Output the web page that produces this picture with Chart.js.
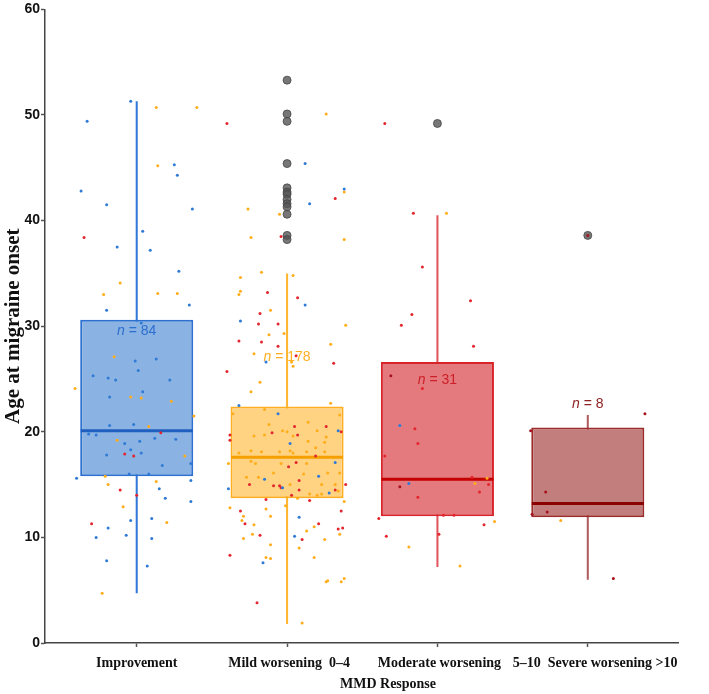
<!DOCTYPE html>
<html><head><meta charset="utf-8">
<script src="https://cdn.jsdelivr.net/npm/chart.js@4/dist/chart.umd.min.js"></script>
<style>html,body{margin:0;padding:0;background:#fff;}</style>
</head><body>
<canvas id="c" width="709" height="694"></canvas>
<script>
// ---------- data ----------
const categories = ["Improvement", "Mild worsening  0–4", "Moderate worsening", "5–10  Severe worsening >10"];
const counts = [84, 178, 31, 8];
const whiskerLow = [4.7, 1.8, 7.2, 6.0];
const q1 = [15.8, 13.7, 12.0, 11.9];
const median = [20.1, 17.6, 15.5, 13.2];
const q3 = [30.6, 22.4, 26.6, 20.4];
const whiskerHigh = [51.3, 35.0, 40.5, 21.6];
const countLabelAt = [29.5, 27.1, 24.9, 22.6];
const outliersMild = [53.3, 50.1, 49.4, 45.4, 43.1, 42.7, 42.5, 42.0, 41.6, 41.3, 40.6, 38.6, 38.2];
const outliersModerate = [49.2];
const outliersSevere = [38.6];
const yTickValues = [0, 10, 20, 30, 40, 50, 60];

// jittered observations: [category position, age]
const bluePoints = [[-0.04,51.3],[-0.33,49.4],[0.25,45.3],[0.27,44.3],[-0.37,42.8],[-0.20,41.5],[0.37,41.1],[0.04,39.0],[-0.13,37.5],[0.09,37.2],[0.28,35.2],[-0.20,31.5],[0.35,32.0],[0.03,30.3],[0.69,30.5],[0.68,22.5],[-0.01,26.7],[0.13,26.9],[0.01,25.8],[-0.29,25.3],[-0.19,25.1],[-0.14,24.9],[0.22,24.9],[0.04,23.8],[-0.18,23.3],[-0.18,20.6],[-0.02,20.7],[-0.32,19.8],[-0.27,19.7],[0.12,19.4],[0.26,19.3],[-0.08,18.9],[0.02,19.1],[-0.04,18.3],[0.03,18.0],[-0.20,17.8],[0.36,17.0],[0.17,16.8],[-0.05,16.0],[0.08,16.0],[-0.40,15.6],[0.36,15.4],[0.61,14.6],[0.15,14.6],[0.19,13.7],[0.36,13.4],[-0.04,11.6],[0.10,11.8],[-0.19,10.9],[-0.27,10.0],[-0.07,10.2],[0.10,9.9],[-0.20,7.8],[0.07,7.3],[1.12,45.4],[1.38,43.0],[1.15,41.6],[1.12,32.0],[0.86,26.6],[0.94,21.7],[1.34,20.1],[1.02,18.9],[1.32,17.1],[1.21,15.8],[0.85,15.5],[0.97,14.7],[1.28,14.2],[1.08,11.9],[1.05,10.1],[0.84,7.6],[1.75,20.6],[1.81,15.1]];
const orangePoints = [[0.13,50.7],[0.40,50.7],[0.14,45.2],[0.74,41.1],[0.76,38.4],[0.69,34.6],[-0.11,34.1],[-0.22,33.0],[0.14,33.1],[0.27,33.1],[0.69,33.3],[0.68,33.0],[0.78,27.4],[0.76,23.8],[-0.15,27.1],[-0.41,24.1],[-0.04,23.3],[0.03,23.2],[0.23,22.9],[0.38,21.5],[0.08,20.5],[-0.13,19.2],[0.32,17.7],[-0.21,15.8],[-0.19,15.0],[0.13,15.3],[-0.09,12.9],[0.20,11.4],[-0.23,4.7],[0.64,21.7],[0.78,19.6],[0.68,18.0],[0.76,18.2],[0.61,17.0],[0.76,17.2],[0.62,12.8],[0.71,12.0],[0.70,11.6],[0.78,11.2],[0.71,9.9],[0.77,10.3],[1.26,50.1],[1.38,42.7],[0.95,40.6],[2.06,40.7],[1.38,38.2],[0.83,35.1],[1.04,34.8],[0.89,31.5],[1.39,30.1],[0.88,29.2],[0.98,29.3],[1.29,28.3],[1.03,26.6],[1.04,26.2],[0.82,24.7],[1.29,22.7],[0.85,22.1],[1.35,21.6],[1.14,20.9],[0.88,20.7],[0.85,19.7],[0.97,20.1],[1.00,20.0],[1.04,19.6],[1.20,20.1],[1.26,19.5],[1.14,19.1],[1.25,19.0],[1.19,18.5],[0.83,18.1],[0.95,18.1],[1.02,18.2],[1.04,18.0],[1.13,18.1],[1.25,18.1],[0.79,17.0],[0.96,17.0],[1.13,17.0],[1.27,16.1],[0.91,16.1],[1.35,16.1],[0.73,15.7],[0.81,15.7],[1.11,16.0],[1.02,15.0],[1.23,15.0],[1.32,15.0],[1.34,14.4],[1.20,14.0],[1.23,14.1],[1.15,14.1],[1.07,13.7],[1.38,13.4],[0.86,12.7],[0.89,12.0],[0.99,13.0],[1.18,11.0],[1.13,10.6],[1.35,10.3],[1.25,9.8],[0.89,9.3],[1.08,9.0],[0.86,8.1],[0.89,8.0],[1.18,8.1],[1.26,5.8],[1.27,5.9],[1.38,6.1],[1.36,5.8],[1.10,1.9],[1.81,9.1],[2.25,15.1],[2.33,15.6],[2.38,11.5],[2.15,7.3],[2.82,11.6]];
const redPoints = [[0.60,49.2],[-0.35,38.4],[0.81,30.2],[0.68,28.6],[0.60,25.7],[0.16,19.9],[-0.08,17.9],[-0.02,17.7],[-0.11,14.5],[0.00,14.0],[-0.30,11.3],[0.62,19.7],[0.62,19.2],[0.75,15.0],[0.69,12.5],[0.72,11.3],[0.62,8.3],[1.65,49.2],[1.32,42.1],[0.96,38.5],[1.90,35.6],[1.84,40.7],[0.87,33.2],[1.07,32.7],[0.82,31.2],[1.83,31.1],[0.94,30.2],[1.76,30.1],[0.83,28.5],[0.94,28.1],[1.06,27.2],[1.31,26.5],[1.26,20.5],[1.05,20.5],[0.90,19.9],[1.07,19.7],[1.36,20.0],[1.19,17.7],[1.06,17.1],[1.01,16.7],[0.91,14.9],[0.95,14.9],[0.96,14.7],[1.08,15.4],[1.08,14.5],[1.39,15.0],[1.32,14.5],[1.03,14.0],[1.15,13.5],[0.86,13.6],[1.36,12.5],[1.21,11.3],[1.34,10.8],[1.37,10.9],[0.82,10.2],[1.10,9.8],[0.80,3.8],[1.61,11.8],[1.66,10.1],[1.90,24.1],[1.85,20.3],[1.87,18.9],[1.65,17.7],[1.87,13.8],[2.22,32.4],[2.24,28.1],[2.23,15.7],[2.34,15.0],[2.28,14.3],[2.04,12.1],[2.11,12.1],[2.31,11.2],[2.01,10.3]];
const darkRedPoints = [[1.69,25.3],[1.75,14.8],[2.62,20.1],[3.38,21.7],[2.72,14.3],[2.73,12.4],[2.63,12.2],[3.17,6.1],[3.00,38.6]];

// ---------- styles ----------
const boxFill = ['#8ab2e2', '#ffd382', '#e47a7e', '#c27d7d'];
const boxEdge = ['#2c70d0', '#ffae22', '#d8232b', '#9c2b2b'];
const whiskerColor = ['#2f78d8', '#ffb52e', '#e0555c', '#b05a5e'];
const medianColor = ['#1e5fbf', '#f5a000', '#c40000', '#8b0000'];
const countColor = ['#2c6fcf', '#ffae22', '#cc1f27', '#8e2222'];
const xLabelShift = [0, 2, 2, -75];
const xLabelAlign = ['center', 'center', 'center', 'left'];

const toXY = arr => arr.map(([x, y]) => ({x, y}));
const idx = categories.map((c, i) => i);

const textPlugin = {
  id: 'texts',
  afterDraw(chart) {
    const {ctx, scales: {x, y}, chartArea} = chart;
    ctx.save();
    ctx.textBaseline = 'middle';
    ctx.fillStyle = '#111';
    ctx.font = 'bold 14px "Liberation Serif", "Times New Roman", serif';
    categories.forEach((lab, i) => {
      ctx.textAlign = xLabelAlign[i];
      ctx.fillText(lab, x.getPixelForValue(i) + xLabelShift[i], chartArea.bottom + 20);
    });
    ctx.textAlign = 'center';
    ctx.fillText('MMD Response', 388, chartArea.bottom + 41);
    ctx.save();
    ctx.translate(14, (chartArea.top + chartArea.bottom) / 2);
    ctx.rotate(-Math.PI / 2);
    ctx.font = 'bold 21px "Liberation Serif", "Times New Roman", serif';
    ctx.fillText('Age at migraine onset', 0, 0);
    ctx.restore();
    counts.forEach((n, i) => {
      const cx = x.getPixelForValue(i);
      const cy = y.getPixelForValue(countLabelAt[i]);
      const itF = 'italic 14px "Liberation Sans", Arial, sans-serif';
      const rgF = '14px "Liberation Sans", Arial, sans-serif';
      const rest = ' = ' + n;
      ctx.font = itF; const w1 = ctx.measureText('n').width;
      ctx.font = rgF; const w2 = ctx.measureText(rest).width;
      const sx = cx - (w1 + w2) / 2;
      ctx.fillStyle = countColor[i];
      ctx.textAlign = 'left';
      ctx.font = itF; ctx.fillText('n', sx, cy);
      ctx.font = rgF; ctx.fillText(rest, sx + w1, cy);
    });
    ctx.restore();
  }
};

const ptStyle = (arr, color) => ({
  type: 'scatter', data: toXY(arr), pointRadius: 1.5, pointBorderWidth: 0,
  pointBackgroundColor: color, order: 0
});

new Chart(document.getElementById('c'), {
  type: 'bar',
  data: {
    datasets: [
      ptStyle(bluePoints, '#2f7ad6'),
      ptStyle(orangePoints, '#ffad1a'),
      ptStyle(redPoints, '#e3262d'),
      ptStyle(darkRedPoints, '#a8121c'),
      {
        type: 'scatter', order: 1,
        data: [
          ...outliersMild.map(v => ({x: 1, y: v})),
          ...outliersModerate.map(v => ({x: 2, y: v})),
          ...outliersSevere.map(v => ({x: 3, y: v}))
        ],
        pointRadius: 4, pointBackgroundColor: 'rgba(85,85,85,0.8)',
        pointBorderColor: 'rgba(70,70,70,0.8)', pointBorderWidth: 1
      },
      {
        type: 'scatter', order: 2,
        data: idx.map(i => ({x: i, y: median[i]})),
        pointStyle: 'line', pointRadius: 56, pointBorderWidth: 3,
        pointBorderColor: medianColor
      },
      {
        type: 'bar', order: 3, grouped: false,
        data: idx.map(i => ({x: i, y: [q1[i], q3[i]]})),
        backgroundColor: boxFill, borderColor: boxEdge, borderWidth: 2,
        borderSkipped: false, barPercentage: 0.752, categoryPercentage: 1
      },
      {
        type: 'bar', order: 4, grouped: false,
        data: idx.map(i => ({x: i, y: [whiskerLow[i], whiskerHigh[i]]})),
        backgroundColor: whiskerColor, borderWidth: 0,
        barPercentage: 0.0135, categoryPercentage: 1
      }
    ]
  },
  options: {
    responsive: false, animation: false, devicePixelRatio: 1,
    layout: {autoPadding: false, padding: {top: 8, right: 31, bottom: 0, left: 0}},
    plugins: {legend: {display: false}, tooltip: {enabled: false}},
    scales: {
      x: {
        type: 'linear', min: -0.61, max: 3.6, offset: false,
        afterBuildTicks: s => { s.ticks = idx.map(v => ({value: v})); },
        afterFit: s => { s.height = 51; },
        ticks: {display: false},
        grid: {display: true, offset: false, drawOnChartArea: false, drawTicks: true, tickLength: 4, tickColor: '#555', tickWidth: 1.5},
        border: {display: true, color: '#444', width: 1.5}
      },
      y: {
        min: 0, max: 60,
        afterBuildTicks: s => { s.ticks = yTickValues.map(v => ({value: v})); },
        afterFit: s => { s.width = 45; },
        ticks: {color: '#111', padding: 1, font: {family: '"Liberation Sans", Arial, sans-serif', size: 14, weight: 'bold'}},
        grid: {display: true, offset: false, drawOnChartArea: false, drawTicks: true, tickLength: 4, tickColor: '#555', tickWidth: 1.5},
        border: {display: true, color: '#444', width: 1.5}
      }
    }
  },
  plugins: [textPlugin]
});
</script>
</body></html>
